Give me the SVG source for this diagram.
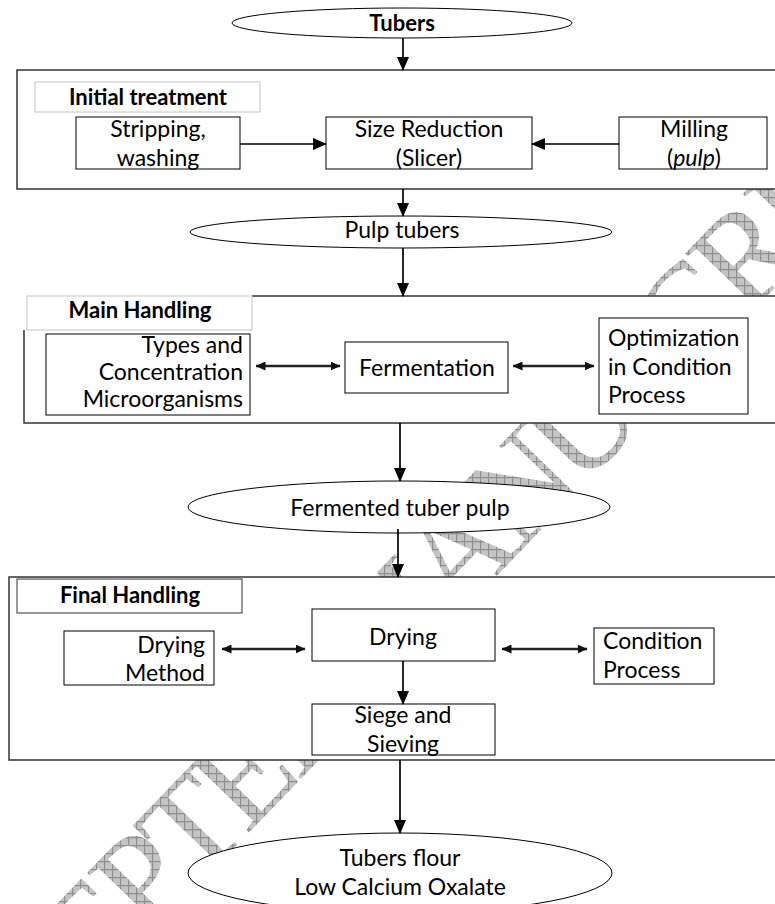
<svg xmlns="http://www.w3.org/2000/svg" width="775" height="904" viewBox="0 0 775 904">
<defs>
<pattern id="hatch" width="8" height="8" patternUnits="userSpaceOnUse" patternTransform="rotate(46)">
<rect width="8" height="8" fill="#c4c4c4"/>
<path d="M0,0.6 H8 M0.6,0 V8" stroke="#8f8f8f" stroke-width="1.2" fill="none"/>
</pattern>
<marker id="ah" viewBox="0 0 14 12" refX="13" refY="6" markerWidth="14" markerHeight="12" orient="auto" markerUnits="userSpaceOnUse">
<path d="M0,0 L14,6 L0,12 z" fill="#000"/>
</marker>
<marker id="sh" viewBox="0 0 10 9" refX="9.5" refY="4.5" markerWidth="10" markerHeight="9" orient="auto-start-reverse" markerUnits="userSpaceOnUse">
<path d="M0,0 L10,4.5 L0,9 z" fill="#111"/>
</marker>
</defs>
<style>
.t{font-family:Lato,"Liberation Sans",sans-serif;font-size:23px;fill:#000}
.c{text-anchor:middle}
.e{text-anchor:end}
.b{font-weight:bold;font-size:22px}
.outer{fill:#fff;stroke:#333;stroke-width:1.5}
.box{fill:#fff;stroke:#000;stroke-width:1}
.lab{fill:#fff;stroke:#c4c4c4;stroke-width:1}
.ell{fill:#fff;stroke:#000;stroke-width:1}
.arr{stroke:#000;stroke-width:1.7;fill:none;marker-end:url(#ah)}
.dbl{stroke:#222;stroke-width:2.6;fill:none;marker-end:url(#sh);marker-start:url(#sh)}
.wm{font-family:"Liberation Serif",serif;font-size:135px;letter-spacing:-8px;fill:url(#hatch)}
</style>
<rect width="775" height="904" fill="#fff"/>
<text class="wm" transform="translate(-80,1173) rotate(-46)">ACCEPTED MANUSCRIPT</text>

<g id="tubers">
<ellipse class="ell" cx="402" cy="23" rx="170" ry="15"/>
<text class="t c b" x="402" y="31">Tubers</text>
</g>

<g id="initial-treatment">
<rect class="outer" x="17" y="70" width="780" height="119"/>
<rect class="lab" x="35" y="82" width="225" height="30"/>
<text class="t c b" x="148" y="105">Initial treatment</text>
</g>
<g id="stripping">
<rect class="box" x="76" y="117" width="164" height="52"/>
<text class="t c" x="158" y="137">Stripping,</text>
<text class="t c" x="158" y="166">washing</text>
</g>
<g id="size-reduction">
<rect class="box" x="326" y="117" width="206" height="52"/>
<text class="t c" x="429" y="137">Size Reduction</text>
<text class="t c" x="429" y="166">(Slicer)</text>
</g>
<g id="milling">
<rect class="box" x="619" y="117" width="148" height="52"/>
<text class="t c" x="694" y="137">Milling</text>
<text class="t c" x="694" y="166">(<tspan font-style="italic">pulp</tspan>)</text>
</g>

<g id="pulp-tubers">
<ellipse class="ell" cx="401" cy="232" rx="211" ry="16"/>
<text class="t c" x="402" y="238">Pulp tubers</text>
</g>

<g id="main-handling">
<rect x="24" y="296" width="780" height="127" fill="#fff"/>
<path d="M252,296 H800 M24,330 V423 H800" fill="none" stroke="#333" stroke-width="1.5"/>
<rect class="lab" x="27" y="296" width="225" height="34"/>
<text class="t c b" x="140" y="318">Main Handling</text>
</g>
<g id="types">
<rect class="box" x="46" y="334" width="204" height="81"/>
<text class="t e" x="243" y="353">Types and</text>
<text class="t e" x="243" y="380">Concentration</text>
<text class="t e" x="243" y="407">Microorganisms</text>
</g>
<g id="fermentation">
<rect class="box" x="345" y="342" width="163" height="51"/>
<text class="t c" x="427" y="376">Fermentation</text>
</g>
<g id="optimization">
<rect class="box" x="599" y="318" width="149" height="96"/>
<text class="t" x="608" y="346">Optimization</text>
<text class="t" x="608" y="375">in Condition</text>
<text class="t" x="608" y="403">Process</text>
</g>

<g id="fermented-pulp">
<ellipse class="ell" cx="399" cy="507" rx="211" ry="26"/>
<text class="t c" x="400" y="516">Fermented tuber pulp</text>
</g>

<g id="final-handling">
<rect class="outer" x="9" y="577" width="790" height="183"/>
<rect x="17" y="579" width="225" height="34" fill="#fff" stroke="#333" stroke-width="1"/>
<text class="t c b" x="130" y="603">Final Handling</text>
</g>
<g id="drying-method">
<rect class="box" x="64" y="631" width="150" height="54"/>
<text class="t e" x="205" y="653">Drying</text>
<text class="t e" x="205" y="681">Method</text>
</g>
<g id="drying">
<rect class="box" x="312" y="609" width="183" height="52"/>
<text class="t c" x="403" y="645">Drying</text>
</g>
<g id="condition-process">
<rect class="box" x="594" y="628" width="120" height="56"/>
<text class="t" x="603" y="649">Condition</text>
<text class="t" x="603" y="678">Process</text>
</g>
<g id="siege">
<rect class="box" x="312" y="704" width="183" height="51"/>
<text class="t c" x="403" y="723">Siege and</text>
<text class="t c" x="403" y="752">Sieving</text>
</g>

<g id="tubers-flour">
<ellipse class="ell" cx="400" cy="873" rx="212" ry="40"/>
<text class="t c" x="400" y="866">Tubers flour</text>
<text class="t c" x="400" y="895">Low Calcium Oxalate</text>
</g>

<g id="connectors">
<path class="arr" d="M403,38 V70"/>
<path class="arr" d="M240,144 H326"/>
<path class="arr" d="M619,144 H532"/>
<path class="arr" d="M403,189 V216"/>
<path class="arr" d="M403,248 V296"/>
<path class="dbl" d="M256,366 H340"/>
<path class="dbl" d="M513,366 H594"/>
<path class="arr" d="M400,423 V481"/>
<path class="arr" d="M398,529 V577"/>
<path class="dbl" d="M222,649 H305"/>
<path class="dbl" d="M502,649 H587"/>
<path class="arr" d="M403,661 V704"/>
<path class="arr" d="M400,760 V833"/>
</g>
</svg>
